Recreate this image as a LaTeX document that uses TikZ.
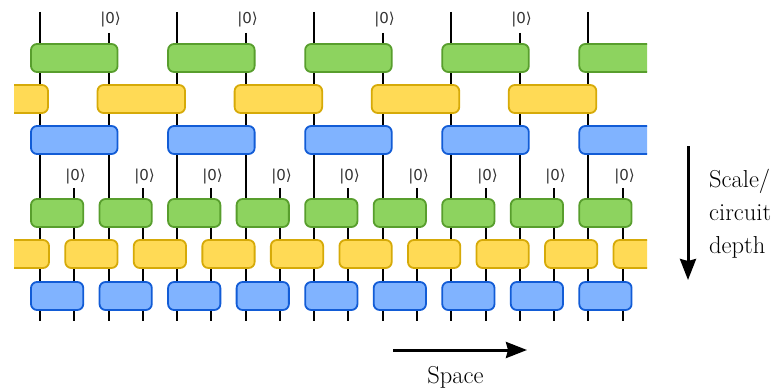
\documentclass[tikz,border=0pt]{standalone}
\usepackage{fontspec}
\newfontfamily\ketfont{DejaVu Sans}
\usetikzlibrary{arrows.meta}
\definecolor{gfill}{RGB}{141,211,95}
\definecolor{gline}{RGB}{88,158,45}
\definecolor{yfill}{RGB}{255,218,85}
\definecolor{yline}{RGB}{214,170,8}
\definecolor{bfill}{RGB}{128,179,255}
\definecolor{bline}{RGB}{18,92,214}
\tikzset{
  wire/.style={line width=2pt,black},
  gate/.style={line width=1.8pt,rounded corners=6pt},
  ggate/.style={gate,fill=gfill,draw=gline},
  ygate/.style={gate,fill=yfill,draw=yline},
  bgate/.style={gate,fill=bfill,draw=bline},
  ket/.style={font=\ketfont\fontsize{15}{16}\selectfont,inner sep=0pt,text=black!80},
  bigarrow/.style={line width=3pt,-{Stealth[length=21pt,width=16pt,inset=2pt]}},
  lbl/.style={font=\fontsize{24.5}{33}\selectfont,inner sep=0pt}
}
\begin{document}
\begin{tikzpicture}[x=1pt,y=-1pt]
\useasboundingbox (0,0) rectangle (781,390);
% wires
\foreach \j in {0,4,...,16}{
  \pgfmathsetmacro\xx{round(40+34.27*\j)}
  \draw[wire] (\xx,12) -- (\xx,321);
}
\foreach \j in {2,6,10,14}{
  \pgfmathsetmacro\xx{round(40+34.27*\j)}
  \node[ket] (kt\j) at (\xx+1.5,20) {|0⟩};
  \draw[wire] (\xx,33) -- (\xx,321);
}
\foreach \j in {1,3,...,17}{
  \pgfmathsetmacro\xx{round(40+34.27*\j)}
  \node[ket] (kb\j) at (\xx+1.5,176.5) {|0⟩};
  \draw[wire] (\xx,188) -- (\xx,321);
}
% gates
\begin{scope}
\clip (14,0) rectangle (647,330);
\foreach \k in {0,...,4}{
  \pgfmathsetmacro\xa{40+137.08*\k-9}
  \pgfmathsetmacro\xb{40+137.08*\k+68.54+9}
  \draw[ggate] (\xa,44) rectangle (\xb,72);
  \draw[bgate] (\xa,126) rectangle (\xb,154);
}
\foreach \k in {-1,...,3}{
  \pgfmathsetmacro\xa{40+68.54+137.08*\k-11}
  \pgfmathsetmacro\xb{40+137.08*\k+137.08+8}
  \draw[ygate] (\xa,85) rectangle (\xb,113);
}
\foreach \k in {0,...,8}{
  \pgfmathsetmacro\xa{40+68.54*\k-9}
  \pgfmathsetmacro\xb{40+68.54*\k+34.27+9}
  \draw[ggate] (\xa,199) rectangle (\xb,227);
  \draw[bgate] (\xa,282) rectangle (\xb,310);
}
\foreach \k in {-1,...,8}{
  \pgfmathsetmacro\xa{40+34.27+68.54*\k-9}
  \pgfmathsetmacro\xb{40+68.54*\k+68.54+9}
  \draw[ygate] (\xa,240) rectangle (\xb,268);
}
\end{scope}
% arrows and labels
\coordinate (sa) at (393,350);
\coordinate (sb) at (527,350);
\draw[bigarrow] (sa) -- (sb);
\node[lbl] (space) at (455.5,377) {Space};
\coordinate (da) at (688,146.5);
\coordinate (db) at (688,280);
\draw[bigarrow] (da) -- (db);
\node[lbl,anchor=west,align=left] (depth) at (709,214) {Scale/\\circuit\\depth};
\end{tikzpicture}
\end{document}
